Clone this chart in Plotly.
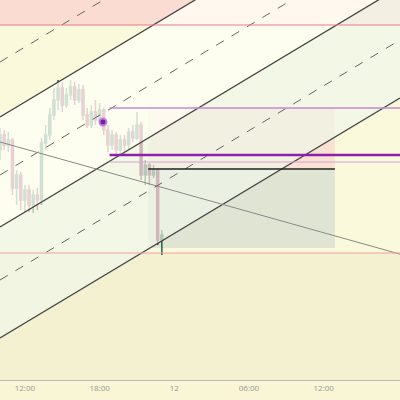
import plotly.graph_objects as go

# candle data (20-minute bars), hours from day-11 00:00
t0 = 10.0
step = 1 / 3
opens = [250, 265, 255, 260, 212, 225, 200, 210, 195, 205, 200, 257, 265, 285, 300, 312, 295, 305, 313, 300,
         310, 285, 275, 288, 280, 290, 270, 255, 265, 250, 260, 255, 268, 262, 275, 225, 235, 225, 230, 160]
closes = [265, 255, 260, 212, 225, 200, 210, 195, 205, 200, 257, 265, 285, 300, 312, 295, 305, 313, 300, 310,
          285, 275, 288, 280, 290, 270, 255, 265, 250, 260, 255, 268, 262, 275, 225, 235, 225, 230, 160, 165]
highs = [272, 270, 268, 262, 230, 228, 215, 215, 210, 212, 262, 275, 292, 312, 320, 318, 312, 320, 318, 316,
         315, 292, 295, 300, 297, 292, 275, 270, 268, 265, 265, 272, 275, 288, 278, 240, 237, 235, 232, 170]
lows = [240, 250, 248, 205, 195, 190, 188, 188, 187, 190, 195, 250, 260, 280, 290, 288, 292, 300, 295, 297,
        280, 272, 272, 275, 278, 265, 248, 250, 245, 245, 248, 250, 258, 260, 220, 215, 215, 222, 155, 145]
times = [t0 + i * step for i in range(len(opens))]

# levels / zones
top_zone = 375
purple_hi = 292
purple_thick = 245
purple_thin = 238
black_lvl = 231
box_low = 152
red_lvl = 147
zone_x0, zone_x1 = 21.9, 36.9
line_x0 = 18.8

# channel lines: price at 10h, slope per hour
ch_slope = 7.47
ch_solid = [283, 173, 62]
ch_dash = [338, 225, 120]
desc_start, desc_slope = 258, -3.49
marker_pt = (18.27, 278)

tick_vals = [12, 18, 24, 30, 36, 42]
tick_text = ["12:00", "18:00", "12", "06:00", "12:00", "18:00"]

X0, X1 = 10, 42.13
fig = go.Figure()

def ch(b, x):
    return b + ch_slope * (x - X0)

# channel fills
fills = [(ch_solid[0], ch_solid[1], "rgba(255,255,245,0.8)"), (ch_solid[1], ch_solid[2], "rgba(240,246,232,0.7)")]
for hi, lo, c in fills:
    fig.add_trace(go.Scatter(x=[X0, X1, X1, X0], y=[ch(hi, X0), ch(hi, X1), ch(lo, X1), ch(lo, X0)],
                             fill="toself", fillcolor=c, line=dict(width=0), mode="lines", hoverinfo="skip"))

shapes = [
    dict(type="rect", x0=X0, x1=X1, y0=top_zone, y1=420, fillcolor="#fbdcd3", line_width=0, layer="below"),
    dict(type="rect", x0=X0, x1=X1, y0=0, y1=red_lvl, fillcolor="#f3f1cf", line_width=0, layer="below"),
    dict(type="rect", x0=zone_x0, x1=zone_x1, y0=black_lvl, y1=purple_hi, fillcolor="rgba(248,208,200,0.55)", line_width=0, layer="below"),
    dict(type="rect", x0=zone_x0, x1=zone_x1, y0=box_low, y1=black_lvl, fillcolor="rgba(190,205,200,0.45)", line_width=0, layer="below"),
    dict(type="line", x0=X0, x1=X1, y0=top_zone, y1=top_zone, line=dict(color="#e87a8a", width=1)),
    dict(type="line", x0=line_x0, x1=X1, y0=purple_hi, y1=purple_hi, line=dict(color="#c58ad0", width=1.5)),
    dict(type="line", x0=line_x0, x1=X1, y0=purple_thick, y1=purple_thick, line=dict(color="#8a1fb0", width=2.5)),
    dict(type="line", x0=line_x0, x1=X1, y0=purple_thin, y1=purple_thin, line=dict(color="#d8a0d8", width=1)),
    dict(type="line", x0=zone_x0, x1=zone_x1, y0=black_lvl, y1=black_lvl, line=dict(color="#222", width=1.5)),
    dict(type="line", x0=X0, x1=X1, y0=red_lvl, y1=red_lvl, line=dict(color="#f0a0a0", width=1)),
]

for b in ch_solid:
    fig.add_trace(go.Scatter(x=[X0, X1], y=[ch(b, X0), ch(b, X1)], mode="lines",
                             line=dict(color="#444", width=1.3), hoverinfo="skip"))
for b in ch_dash:
    fig.add_trace(go.Scatter(x=[X0, X1], y=[ch(b, X0), ch(b, X1)], mode="lines",
                             line=dict(color="#666", width=1, dash="dash"), hoverinfo="skip"))
fig.add_trace(go.Scatter(x=[X0, X1], y=[desc_start, desc_start + desc_slope * (X1 - X0)], mode="lines",
                         line=dict(color="#888", width=1), hoverinfo="skip"))

fig.add_trace(go.Candlestick(x=times, open=opens, high=highs, low=lows, close=closes,
                             increasing=dict(line=dict(color="#1a6646", width=1.5), fillcolor="#1a6646"),
                             decreasing=dict(line=dict(color="#8e1c48", width=1.5), fillcolor="#8e1c48"),
                             whiskerwidth=0, opacity=1))
fig.add_trace(go.Scatter(x=[marker_pt[0]], y=[marker_pt[1]], mode="markers",
                         marker=dict(size=7, color="#7a1fa0", line=dict(color="#c080e0", width=2))))

fig.update_layout(
    width=400, height=400, margin=dict(l=0, r=0, t=0, b=20),
    showlegend=False, shapes=shapes,
    plot_bgcolor="#fbf9dc", paper_bgcolor="#f8f6d4",
    xaxis=dict(range=[X0, X1], tickvals=tick_vals, ticktext=tick_text, showgrid=False, zeroline=False,
               rangeslider=dict(visible=False), tickfont=dict(size=8, color="#999", family="Open Sans"),
               showline=True, linecolor="#bbb"),
    yaxis=dict(range=[20, 400], visible=False, showgrid=False),
)
fig.write_html("out.html", config={"displayModeBar": False},
               post_script="document.body.style.margin='0';")
